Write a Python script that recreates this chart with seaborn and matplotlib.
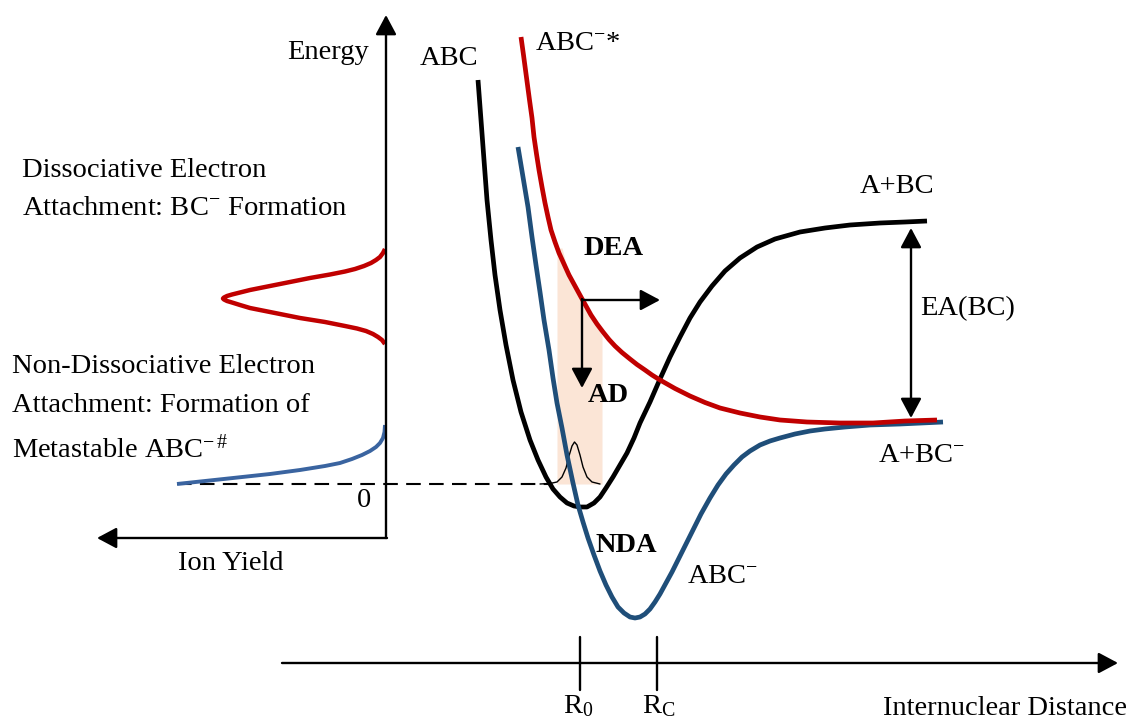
import numpy as np
import pandas as pd
import matplotlib
matplotlib.use("Agg")
import matplotlib.pyplot as plt
import seaborn as sns

# ---------------- data (pixel-space schematic, y grows downward) ----------------
abc_x = [478, 481, 484, 487, 491, 495, 500, 506, 513, 521, 530, 538, 546, 553, 560, 567,
         574, 580, 587, 594, 600, 606, 613, 620, 627, 634, 640, 650, 660, 670, 680, 690,
         700, 712, 725, 740, 757, 775, 800, 825, 850, 880, 905, 927]
abc_y = [80, 120, 160, 200, 240, 275, 310, 345, 380, 412, 440, 460, 477, 489, 497, 503,
         506, 507, 507, 503, 497, 488, 477, 465, 453, 438, 423, 402, 379, 357, 337, 318,
         302, 286, 271, 258, 247, 239, 232, 228, 225, 223, 222, 221]

abcstar_x = [521, 523.5, 525.5, 527.5, 529.5, 532, 534, 536.5, 539, 542, 545, 548, 551,
             555, 559, 564, 569, 575, 581, 586, 591, 597, 603, 609, 615, 622, 630, 637,
             645, 652, 660, 675, 690, 705, 720, 740, 760, 780, 807, 840, 873, 905, 937]
abcstar_y = [37, 55, 70, 85, 100, 118, 137, 154, 170, 187, 203, 217, 230, 242, 253, 264,
             275, 286, 297, 306, 315, 324, 332, 339.5, 346, 352.5, 359, 364.5, 370, 375,
             380, 388.5, 396, 402.5, 408, 413, 417, 420, 422, 423, 423, 421, 420]

abcneg_x = [518, 523, 528, 532, 536, 540, 544, 549, 553, 557, 562, 567, 573, 578, 583,
            588, 594, 600, 606, 612, 618, 624, 630, 635, 640, 645, 650, 655, 660, 666,
            672, 678, 685, 693, 701, 710, 718, 726, 734, 742, 750, 760, 770, 780, 795,
            810, 825, 845, 870, 900, 943]
abcneg_y = [147, 177, 207, 237, 265, 292, 320, 350, 378, 403, 428, 455, 483, 505, 522,
            538, 555, 571, 585, 597, 607, 613, 617, 618, 617, 614, 609, 602, 594, 583,
            572, 560, 546, 530, 514, 498, 485, 474, 465, 457, 451, 445, 441, 438, 434,
            431, 429, 427, 425, 424, 422]

# ion-yield curves on the left panel
dea_yield_x = [385, 383, 380, 376, 371, 364, 355, 345, 330, 310, 290, 270, 250, 240, 232,
               227, 224, 223, 224, 227, 232, 240, 250, 275, 300, 325, 345, 357, 366,
               373, 378, 382, 385]
dea_yield_y = [249, 253, 257, 260, 263, 266, 269, 271.5, 274.5, 278, 282, 286, 290, 292.5,
               294.5, 296, 297.5, 298.5, 299.5, 301, 302.5, 305, 308, 313, 318, 322,
               326, 328.5, 331, 334, 337, 340, 344]
nda_yield_x = [385, 384.5, 383, 380, 376, 370, 362, 352, 340, 325, 300, 270, 233, 205, 177]
nda_yield_y = [425, 432, 438, 443, 447, 451, 455, 459, 463, 466, 470, 474, 478, 481, 484]

# vibrational wavefunction in the well
vib_x = [540, 550, 557, 562, 566, 569, 572, 574.5, 577, 580, 583, 587, 592, 600]
vib_y = [484, 483.5, 482, 477, 468, 456, 446, 442, 445, 455, 467, 477, 482, 484]

# Franck-Condon shaded region
shade_x = [557, 562, 569, 575, 581, 591, 602]
shade_top = [248, 248, 275, 286, 297, 315, 336]
shade_bottom = 484

# reference lines / axes
zero_level = 484
dash_x = [177, 550]
energy_axis = dict(x=386, y0=538, y1=15)
yield_axis = dict(y=538, x0=387, x1=97)
dist_axis = dict(y=663, x0=282, x1=1118)
tick_x = [580, 657]
tick_y = [637, 690]
tick_labels = ["R$_0$", "R$_\\mathrm{C}$"]
ea_arrow = dict(x=911, y0=222, y1=420)
dea_corner = (582, 300)
dea_arrow_right_x = 660
dea_arrow_down_y = 388

# ---------------- style ----------------
sns.set_theme(style="white")
plt.rcParams["font.family"] = ["Liberation Serif", "DejaVu Serif"]
plt.rcParams["text.color"] = "black"
plt.rcParams["mathtext.fontset"] = "custom"
plt.rcParams["mathtext.rm"] = "Liberation Serif"
plt.rcParams["mathtext.it"] = "Liberation Serif:italic"
plt.rcParams["mathtext.bf"] = "Liberation Serif:bold"

RED = "#C00000"
BLUE = "#1F4E79"
BLUE_L = "#3A64A0"
SHADE = "#FBE5D6"
FS = 20.5

fig = plt.figure(figsize=(11.37, 7.2), dpi=100)
ax = fig.add_axes([0, 0, 1, 1])
ax.set_xlim(0, 1137)
ax.set_ylim(720, 0)
ax.axis("off")

# shaded region
ax.fill_between(shade_x, shade_top, shade_bottom, color=SHADE, lw=0, zorder=1)

# zero-level dashed line and well baseline
ax.plot(dash_x, [zero_level, zero_level], color="black", lw=1.5,
        linestyle=(0, (7, 4)), zorder=2)
sns.lineplot(x=vib_x, y=vib_y, sort=False, estimator=None, color="black", lw=1.0,
             ax=ax, zorder=3)

def curve(x, y, color, lw, z):
    sns.lineplot(x=x, y=y, sort=False, estimator=None, color=color, lw=lw, ax=ax,
                 zorder=z, solid_capstyle="butt", solid_joinstyle="round")

curve(abc_x, abc_y, "black", 3.4, 4)
curve(abcneg_x, abcneg_y, BLUE, 3.4, 5)
curve(abcstar_x, abcstar_y, RED, 3.4, 6)
curve(dea_yield_x, dea_yield_y, RED, 3.2, 6)
curve(nda_yield_x, nda_yield_y, BLUE_L, 2.8, 6)

def arrow(x0, y0, x1, y1, style="-|>", lw=1.7, hw=0.32, hl=0.6):
    ax.annotate("", xy=(x1, y1), xytext=(x0, y0),
                arrowprops=dict(arrowstyle=f"{style},head_width={hw},head_length={hl}",
                                lw=lw, color="black", shrinkA=0, shrinkB=0,
                                mutation_scale=20), zorder=7)

# axes arrows
arrow(energy_axis["x"], energy_axis["y0"], energy_axis["x"], energy_axis["y1"])
ax.plot([yield_axis["x0"], yield_axis["x0"]], [energy_axis["y0"], yield_axis["y"]],
        color="black", lw=1.7)
arrow(yield_axis["x0"], yield_axis["y"], yield_axis["x1"], yield_axis["y"])
arrow(dist_axis["x0"], dist_axis["y"], dist_axis["x1"], dist_axis["y"])
for tx in tick_x:
    ax.plot([tx, tx], tick_y, color="black", lw=1.7, zorder=7)

# DEA / AD arrows
arrow(dea_corner[0], dea_corner[1], dea_arrow_right_x, dea_corner[1])
arrow(dea_corner[0], dea_corner[1] - 1, dea_corner[0], dea_arrow_down_y)
# EA double arrow
arrow(ea_arrow["x"], ea_arrow["y0"] + 6, ea_arrow["x"], ea_arrow["y1"] - 2, style="<|-|>")

# ---------------- texts ----------------
def txt(x, y, s, ha="left", bold=False):
    ax.text(x, y, s, ha=ha, va="baseline", fontsize=FS, color="black",
            fontweight="bold" if bold else "normal", zorder=8)

txt(328, 59, "Energy", ha="center")
txt(420, 65, "ABC")
txt(535, 50, "ABC$^{-}$*")
txt(583, 255, "DEA", bold=True)
txt(588, 402, "AD", bold=True)
txt(595, 552, "NDA", bold=True)
txt(687, 583, "ABC$^{-}$")
txt(860, 193, "A+BC")
txt(920, 315, "EA(BC)")
txt(878, 462, "A+BC$^{-}$")
txt(357, 507, "0")
txt(178, 570, "Ion Yield")
txt(tick_x[0] - 17, 713, tick_labels[0])
txt(tick_x[1] - 15, 713, tick_labels[1])
txt(883, 715, "Internuclear Distance")
txt(22, 177, "Dissociative Electron")
txt(22, 215, "Attachment: BC$^{-}$ Formation")
txt(12, 373, "Non-Dissociative Electron")
txt(12, 412, "Attachment: Formation of")
txt(12, 458, "Metastable ABC$^{-\\,\\#}$")

fig.savefig("out.png", dpi=100)
